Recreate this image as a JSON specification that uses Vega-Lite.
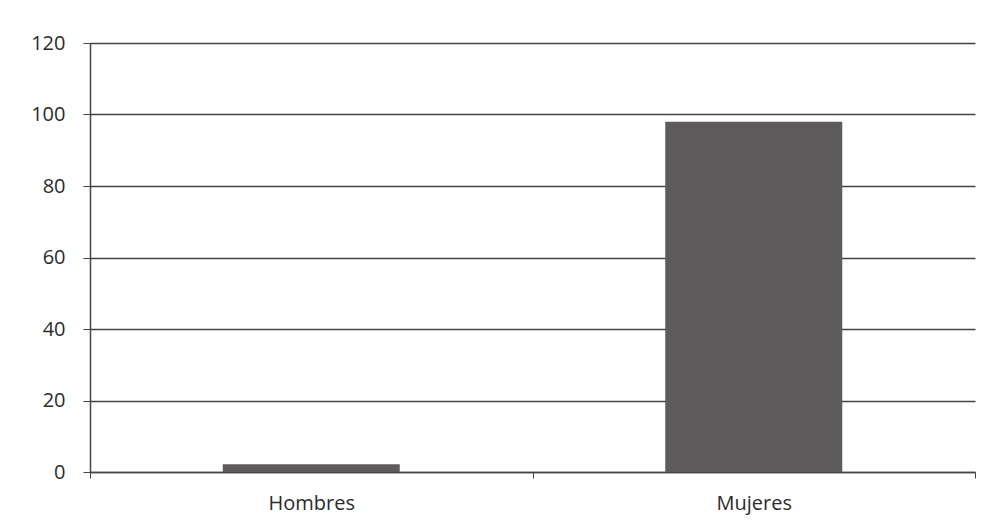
{
  "$schema": "https://vega.github.io/schema/vega-lite/v6.json",
  "width": 885,
  "height": 429,
  "autosize": "none",
  "padding": {"left": 90, "top": 43, "right": 19, "bottom": 60},
  "background": "#ffffff",
  "config": {
    "view": {"stroke": null},
    "font": "Open Sans"
  },
  "data": {
    "values": [
      {"sexo": "Hombres", "valor": 2.2},
      {"sexo": "Mujeres", "valor": 98}
    ]
  },
  "mark": {"type": "bar", "color": "#5e5b5d", "width": {"band": 0.4}},
  "encoding": {
    "x": {
      "field": "sexo",
      "type": "nominal",
      "sort": null,
      "scale": {"paddingInner": 0, "paddingOuter": 0},
      "axis": {
        "title": null,
        "labelAngle": 0,
        "labelFontSize": 20,
        "labelColor": "#2b2b2b",
        "labelPadding": 15,
        "domainColor": "#444444",
        "domainWidth": 1.5,
        "tickBand": "extent",
        "tickColor": "#444444",
        "tickSize": 6,
        "grid": false
      }
    },
    "y": {
      "field": "valor",
      "type": "quantitative",
      "scale": {"domain": [0, 120], "nice": false},
      "axis": {
        "title": null,
        "values": [0, 20, 40, 60, 80, 100, 120],
        "labelFontSize": 20,
        "labelColor": "#2b2b2b",
        "labelPadding": 18,
        "domainColor": "#444444",
        "domainWidth": 1.5,
        "tickColor": "#444444",
        "tickSize": 7,
        "grid": true,
        "gridColor": "#444444",
        "gridWidth": 1.3
      }
    }
  }
}
